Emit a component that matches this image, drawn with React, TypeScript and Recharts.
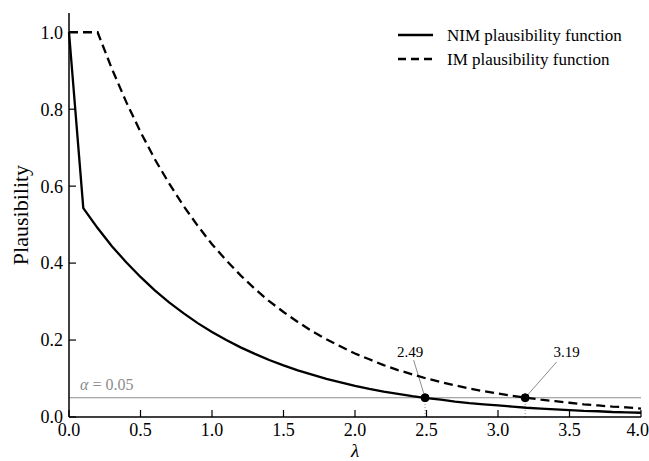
import { LineChart, Line, XAxis, YAxis, ReferenceLine, ReferenceDot, Legend } from 'recharts'

const lambdas = [
  0, 0.1, 0.2, 0.3, 0.4, 0.5, 0.6, 0.7, 0.8, 0.9, 1.0, 1.1, 1.2, 1.3, 1.4, 1.5, 1.6, 1.7, 1.8, 1.9, 2.0,
  2.1, 2.2, 2.3, 2.4, 2.5, 2.6, 2.7, 2.8, 2.9, 3.0, 3.1, 3.2, 3.3, 3.4, 3.5, 3.6, 3.7, 3.8, 3.9, 4.0,
]
const nimValues = [
  1.0, 0.543, 0.491, 0.444, 0.402, 0.364, 0.329, 0.298, 0.27, 0.244, 0.221, 0.2, 0.181, 0.164, 0.148, 0.134,
  0.121, 0.11, 0.099, 0.09, 0.081, 0.073, 0.066, 0.06, 0.054, 0.049, 0.045, 0.04, 0.036, 0.033, 0.03, 0.027,
  0.024, 0.022, 0.02, 0.018, 0.016, 0.015, 0.013, 0.012, 0.011,
]
const imValues = [
  1.0, 1.0, 1.0, 0.905, 0.819, 0.741, 0.67, 0.607, 0.549, 0.497, 0.449, 0.407, 0.368, 0.333, 0.301, 0.273,
  0.247, 0.223, 0.202, 0.183, 0.165, 0.15, 0.135, 0.122, 0.111, 0.1, 0.091, 0.082, 0.074, 0.067, 0.061, 0.055,
  0.05, 0.045, 0.041, 0.037, 0.033, 0.03, 0.027, 0.025, 0.022,
]
const xTicks = [0, 0.5, 1, 1.5, 2, 2.5, 3, 3.5, 4]
const yTicks = [0, 0.2, 0.4, 0.6, 0.8, 1.0]
const alpha = 0.05

// where each curve crosses alpha, plus where its label sits
const crossings = [
  { x: 2.49, label: '2.49', textX: 2.385, textY: 0.171, leadX: 2.41, leadY: 0.148 },
  { x: 3.19, label: '3.19', textX: 3.48, textY: 0.171, leadX: 3.41, leadY: 0.143 },
]

const data = lambdas.map((lam, i) => ({ lam, nim: nimValues[i], im: imValues[i] }))

const FONT = 'Liberation Serif'
const GREY = '#8c8c8c'

function PlausLegend() {
  const items = [
    { label: 'NIM plausibility function', dash: undefined },
    { label: 'IM plausibility function', dash: '8 5' },
  ]
  return (
    <svg width={250} height={52}>
      {items.map((it, i) => (
        <g key={it.label}>
          <line x1={3} x2={38} y1={13 + i * 24} y2={13 + i * 24} stroke="#000" strokeWidth={2.3} strokeDasharray={it.dash} />
          <text x={52} y={13 + i * 24} fontSize={17} fontFamily={FONT} dominantBaseline="central" fill="#000">
            {it.label}
          </text>
        </g>
      ))}
    </svg>
  )
}

// eslint-disable-next-line @typescript-eslint/no-explicit-any
function AlphaLabel({ viewBox }: any) {
  return (
    <text x={viewBox.x + 11} y={viewBox.y - 8} fontSize={16} fill={GREY} fontFamily={FONT}>
      <tspan fontStyle="italic">α</tspan> = 0.05
    </text>
  )
}

export default function App() {
  return (
    <div style={{ position: 'absolute', left: 0, top: 0, fontFamily: FONT }}>
      <style>{`svg text { font-family: 'Liberation Serif', serif !important; }`}</style>
      <LineChart
        width={649}
        height={461}
        data={data}
        margin={{ top: 13, right: 8, bottom: 0, left: 0 }}
        style={{ fontFamily: FONT }}
      >
        <XAxis
          dataKey="lam"
          type="number"
          domain={[0, 4]}
          ticks={xTicks}
          tickFormatter={(v) => v.toFixed(1)}
          height={44}
          tickSize={-7}
          tickMargin={13}
          axisLine={{ stroke: '#000', strokeWidth: 1.5 }}
          tickLine={{ stroke: '#000', strokeWidth: 1.2 }}
          tick={{ fill: '#000', fontSize: 18, fontFamily: FONT }}
          label={{ value: 'λ', position: 'insideBottom', offset: 4, fontSize: 19, fontStyle: 'italic', fill: '#000', fontFamily: FONT }}
        />
        <YAxis
          type="number"
          domain={[0, 1.05]}
          ticks={yTicks}
          tickFormatter={(v) => v.toFixed(1)}
          width={69}
          tickSize={-7}
          tickMargin={13}
          axisLine={{ stroke: '#000', strokeWidth: 1.5 }}
          tickLine={{ stroke: '#000', strokeWidth: 1.2 }}
          tick={{ fill: '#000', fontSize: 18, fontFamily: FONT }}
          label={{ value: 'Plausibility', angle: -90, position: 'center', dx: -14, fontSize: 22, fill: '#000', fontFamily: FONT }}
        />
        <Legend
          layout="horizontal"
          verticalAlign="middle"
          align="center"
          content={<PlausLegend />}
          wrapperStyle={{ top: 22, left: 395, width: 250 }}
        />
        <ReferenceLine y={alpha} stroke={GREY} strokeWidth={1.2} label={<AlphaLabel />} />
        {crossings.map((c) => (
          <ReferenceLine
            key={'v' + c.label}
            segment={[{ x: c.x, y: 0 }, { x: c.x, y: alpha }]}
            stroke={GREY}
            strokeWidth={1}
            strokeDasharray="1 2"
          />
        ))}
        {crossings.map((c) => (
          <ReferenceLine
            key={'l' + c.label}
            segment={[{ x: c.leadX, y: c.leadY }, { x: c.x, y: alpha }]}
            stroke={GREY}
            strokeWidth={1}
          />
        ))}
        <Line type="linear" dataKey="nim" stroke="#000" strokeWidth={2.3} dot={false} isAnimationActive={false} />
        <Line
          type="linear"
          dataKey="im"
          stroke="#000"
          strokeWidth={2.3}
          strokeDasharray="9 5"
          dot={false}
          isAnimationActive={false}
        />
        {crossings.map((c) => (
          <ReferenceDot key={'d' + c.label} x={c.x} y={alpha} r={4} fill="#000" stroke="#000" />
        ))}
        {crossings.map((c) => (
          <ReferenceDot
            key={'t' + c.label}
            x={c.textX}
            y={c.textY}
            r={0}
            fill="none"
            stroke="none"
            label={{ value: c.label, position: 'center', fontSize: 15, fill: '#000', fontFamily: FONT }}
          />
        ))}
      </LineChart>
    </div>
  )
}
